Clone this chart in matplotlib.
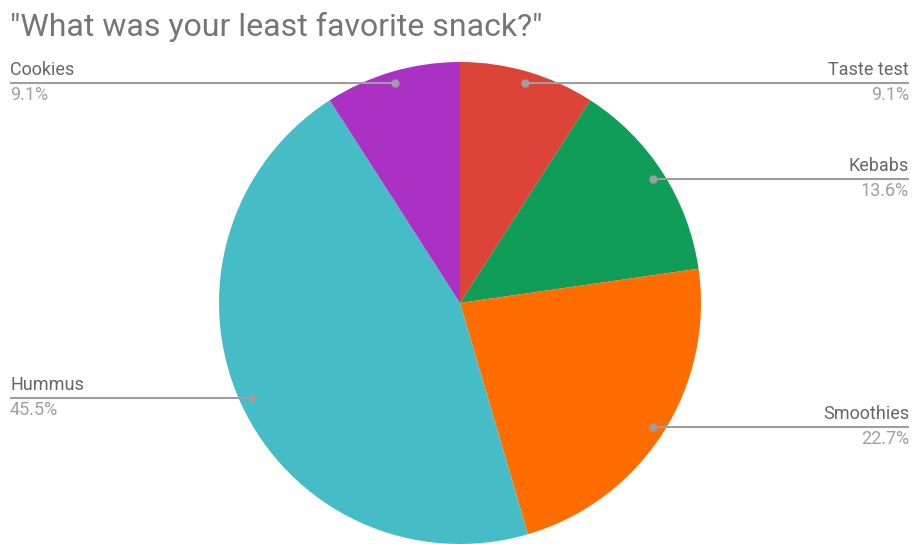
import numpy as np
import matplotlib.pyplot as plt

plt.rcParams['font.family'] = ['Roboto', 'DejaVu Sans']

# Survey answers, clockwise from the top
snacks = ['Taste test', 'Kebabs', 'Smoothies', 'Hummus', 'Cookies']
votes = [2, 3, 5, 10, 2]
colors = ['#DB4437', '#0F9D58', '#FF6D00', '#46BDC6', '#AB30C4']
label_side = ['right', 'right', 'right', 'left', 'left']

W, H = 914, 544
fig = plt.figure(figsize=(W / 100, H / 100), dpi=100)
ax = fig.add_axes([0, 0, 1, 1])

cx, cy, R = 460, 241, 241
ax.pie(votes, colors=colors, startangle=90, counterclock=False,
       center=(cx, cy), radius=R, frame=True,
       wedgeprops=dict(linewidth=0))
ax.set_xlim(0, W)
ax.set_ylim(0, H)
ax.axis('off')

fig.text(10 / W, 1 - 27 / H, '"What was your least favorite snack?"',
         fontsize=23, color='#757575', va='center', ha='left')

total = float(sum(votes))
cum = 0.0
for name, v, side in zip(snacks, votes, label_side):
    mid = (cum + v / 2) / total * 2 * np.pi
    cum += v
    px = cx + 0.95 * R * np.sin(mid)
    py = cy + 0.95 * R * np.cos(mid)
    ex = W - 5 if side == 'right' else 10
    ax.plot([px, ex], [py, py], color='#9e9e9e', lw=1.5,
            solid_capstyle='butt', zorder=3)
    ax.plot(px, py, 'o', color='#9e9e9e', ms=5, zorder=4)
    ha = 'right' if side == 'right' else 'left'
    ax.text(ex, py + 4, name, ha=ha, va='bottom', fontsize=13,
            color='#666666')
    ax.text(ex, py - 3, '%.1f%%' % (100 * v / total), ha=ha, va='top',
            fontsize=13, color='#a0a0a0')

fig.savefig('out.png', dpi=100, facecolor='white')
